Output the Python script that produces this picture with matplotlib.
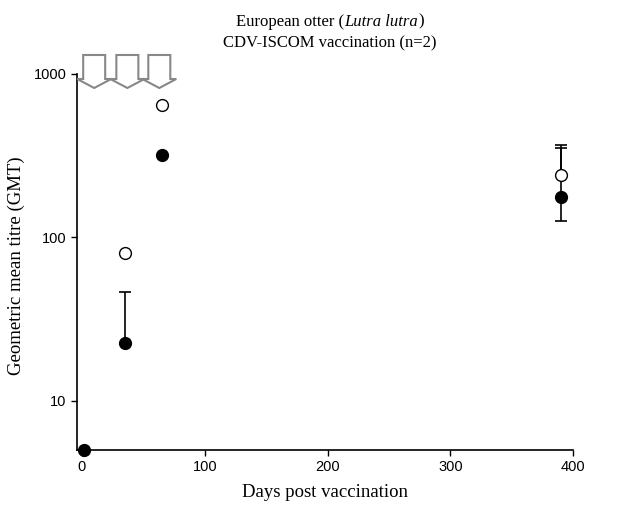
import matplotlib
matplotlib.use("Agg")
import matplotlib.pyplot as plt
from matplotlib.patches import Polygon
import numpy as np

# Data
days_open = [35, 65, 390]
gmt_open = [80, 640, 240]
days_filled = [1.5, 35, 65, 390]
gmt_filled = [5, 22.5, 318, 176]
# error bars (only where shown)
err_open_day = [390]
err_open_val = [240]
err_open_hi = [366]
err_filled_day = [35, 390]
err_filled_val = [22.5, 176]
err_filled_hi = [46.5, 352]
err_filled_lo = [22.5, 125]
vacc_days = [10, 37, 63]  # arrow positions (schematic)

x_ticks = [0, 100, 200, 300, 400]
y_ticks = [10, 100, 1000]
y_ticklabels = ["10", "100", "1000"]

fig = plt.figure(figsize=(6.29, 5.09), dpi=100)
ax = fig.add_axes([0.1224, 0.116, 0.789, 0.739])

serif = "Liberation Serif"
sans = "Liberation Sans"

# error bars
ev = np.array(err_open_val)
ax.errorbar(err_open_day, err_open_val, yerr=[np.zeros_like(ev), np.array(err_open_hi) - ev],
            fmt='none', ecolor='black', elinewidth=1.2, capsize=4.5, capthick=1.2, zorder=2)
fv = np.array(err_filled_val)
ax.errorbar(err_filled_day, err_filled_val,
            yerr=[fv - np.array(err_filled_lo), np.array(err_filled_hi) - fv],
            fmt='none', ecolor='black', elinewidth=1.2, capsize=4.5, capthick=1.2, zorder=2)

ax.plot(days_open, gmt_open, 'o', mfc='white', mec='black', ms=8.5, mew=1.0,
        zorder=3, clip_on=False)
ax.plot(days_filled, gmt_filled, 'o', mfc='black', mec='black', ms=8.5, mew=1.0,
        zorder=4, clip_on=False)

ax.set_yscale('log')
ax.set_xlim(-4, 400)
ax.set_ylim(5, 1000)
ax.set_xticks(x_ticks)
ax.set_xticklabels([str(v) for v in x_ticks], fontfamily=sans, fontsize=10.5)
ax.set_yticks(y_ticks)
ax.set_yticklabels(y_ticklabels, fontfamily=sans, fontsize=10.5)
ax.yaxis.set_minor_locator(matplotlib.ticker.NullLocator())
ax.tick_params(direction='out', length=4, width=1)
for s in ['top', 'right']:
    ax.spines[s].set_visible(False)
for s in ['left', 'bottom']:
    ax.spines[s].set_linewidth(1.2)

ax.set_xlabel("Days post vaccination", fontfamily=serif, fontsize=13.5, labelpad=7)
ax.set_ylabel("Geometric mean titre (GMT)", fontfamily=serif, fontsize=13.5, va='center')
ax.yaxis.set_label_coords(-0.123, 0.49)

# Title line 1 built from pieces (italic species name)
fig.canvas.draw()
r = fig.canvas.get_renderer()
parts = [("European otter (", 'normal'), ("Lutra lutra", 'italic'), (")", 'normal')]
texts = []
for s, st in parts:
    t = fig.text(0, 0.957, s, fontfamily=serif, fontsize=12, style=st, ha='left', va='center')
    texts.append(t)
widths = [t.get_window_extent(r).width for t in texts]
W, H = fig.get_size_inches() * fig.dpi
x0 = 0.525 * W - sum(widths) / 2
for t, w in zip(texts, widths):
    t.set_x(x0 / W)
    x0 += w
fig.text(0.525, 0.914, "CDV-ISCOM vaccination (n=2)", fontfamily=serif, fontsize=12,
         ha='center', va='center')

# Vaccination arrows drawn in pixel-based figure coordinates around data x positions
for d in vacc_days:
    xp = ax.transData.transform((d, 10))[0]
    bw, hw = 11, 17
    top, hb, tip = 55, 79, 88
    pts = [(xp - bw, top), (xp + bw, top), (xp + bw, hb), (xp + hw, hb),
           (xp, tip), (xp - hw, hb), (xp - bw, hb)]
    pts = [(px / W, 1 - py / H) for px, py in pts]
    poly = Polygon(pts, closed=True, facecolor='white', edgecolor='#888888',
                   linewidth=1.5, transform=fig.transFigure, zorder=10)
    fig.add_artist(poly)

fig.savefig("out.png", dpi=100)
